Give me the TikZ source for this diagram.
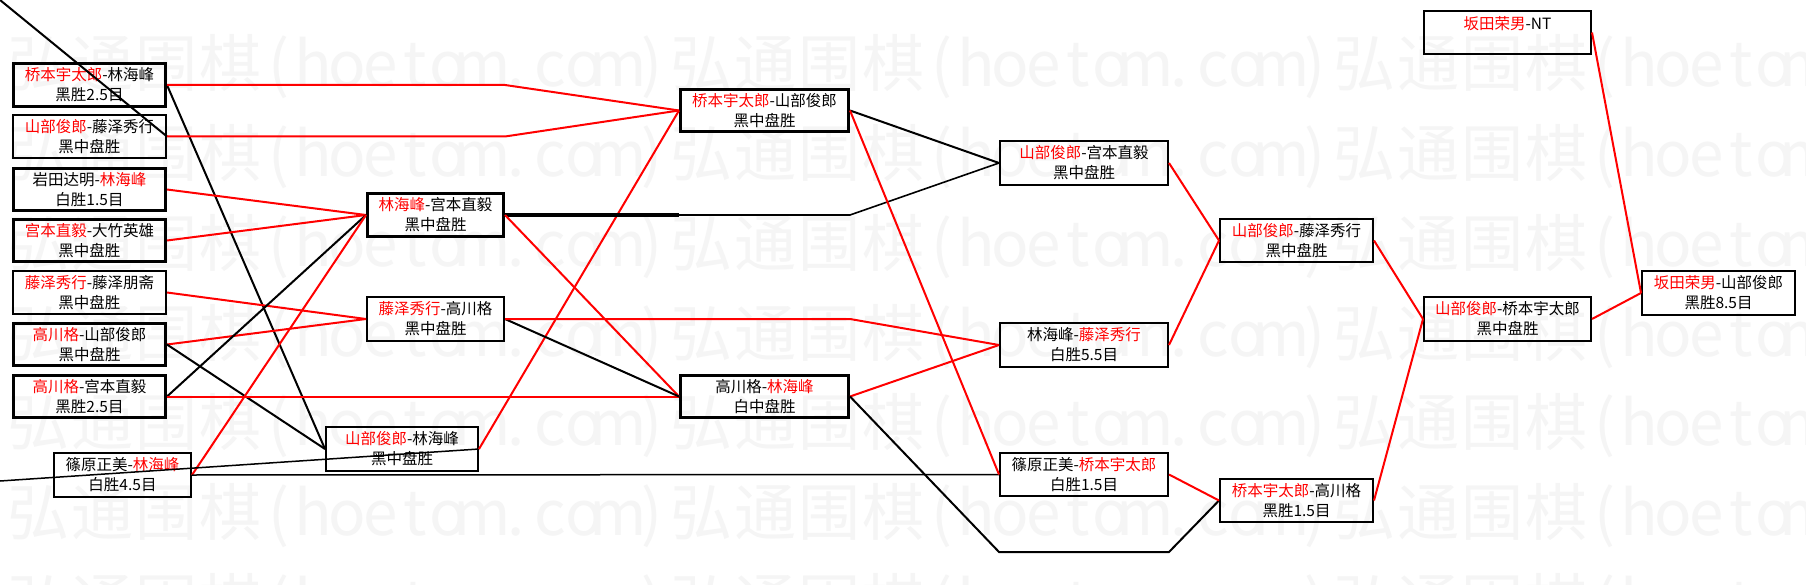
\documentclass[tikz,border=0pt]{standalone}
\usepackage{fontspec}
\setmainfont{Noto Sans CJK SC}
\newcommand{\win}[1]{\textcolor{red}{#1}}
\newcommand{\hw}[1]{\makebox[33.9pt]{#1}}
\newcommand{\fw}[1]{\makebox[64pt]{#1}}
\newcommand{\hoetom}{\fw{弘}\fw{通}\fw{围}\fw{棋}\hw{(}\hw{h}\hw{o}\hw{e}\hw{t}\hw{o}\hw{m}\hw{.}\hw{c}\hw{o}\hw{m}\hw{)}}

\begin{document}
\begin{tikzpicture}[x=1pt,y=-1pt,
  game/.style={draw,line width=2.2pt,minimum height=43.3pt,inner sep=0pt,align=center,
    font=\fontsize{15.5}{20}\selectfont},
  gamebold/.style={game,line width=3.2pt,minimum height=42.3pt},
  redline/.style={red,line width=2pt},
  blkline/.style={black,line width=2pt},
  wmark/.style={anchor=west,inner sep=0pt,text=black!4,font=\fontsize{62}{62}\selectfont}]

\useasboundingbox (0,0) rectangle (1806,585);
\fill[white] (0,0) rectangle (1806,585);
\begin{scope}
\clip (0,0) rectangle (1806,585);
\foreach \r in {0,...,6}
  \foreach \c in {0,1,2}
    \node[wmark] at (6+663*\c,67+89.7*\r) {\hoetom};
\end{scope}

% round 1
\node[gamebold,minimum width=151.8] (A1) at (89.5,85)    {\win{桥本宇太郎}-林海峰\\黑胜2.5目};
\node[game,minimum width=152.8]     (A2) at (89.5,136.5) {\win{山部俊郎}-藤泽秀行\\黑中盘胜};
\node[gamebold,minimum width=151.8] (A3) at (89.5,189.5) {岩田达明-\win{林海峰}\\白胜1.5目};
\node[gamebold,minimum width=151.8] (A4) at (89.5,240.5) {\win{宫本直毅}-大竹英雄\\黑中盘胜};
\node[game,minimum width=152.8]     (A5) at (89.5,292.5) {\win{藤泽秀行}-藤泽朋斋\\黑中盘胜};
\node[gamebold,minimum width=151.8] (A6) at (89.5,344.5) {\win{高川格}-山部俊郎\\黑中盘胜};
\node[gamebold,minimum width=151.8] (A7) at (89.5,396.5) {\win{高川格}-宫本直毅\\黑胜2.5目};
\node[game,minimum width=136.8]     (A8) at (122.5,475)  {篠原正美-\win{林海峰}\\白胜4.5目};
% round 2
\node[gamebold,minimum width=135.8] (B1) at (435.5,215) {\win{林海峰}-宫本直毅\\黑中盘胜};
\node[game,minimum width=136.8]     (B2) at (435.5,319) {\win{藤泽秀行}-高川格\\黑中盘胜};
\node[game,minimum width=151.8]     (B3) at (402,449)   {\win{山部俊郎}-林海峰\\黑中盘胜};
% round 3
\node[gamebold,minimum width=167.8] (C1) at (764.5,110.5) {\win{桥本宇太郎}-山部俊郎\\黑中盘胜};
\node[gamebold,minimum width=167.8] (C2) at (764.5,396.5) {高川格-\win{林海峰}\\白中盘胜};
% round 4
\node[game,minimum width=167.8] (D1) at (1084,163)   {\win{山部俊郎}-宫本直毅\\黑中盘胜};
\node[game,minimum width=167.8] (D2) at (1084,345)   {林海峰-\win{藤泽秀行}\\白胜5.5目};
\node[game,minimum width=167.8] (D3) at (1084,474.5) {篠原正美-\win{桥本宇太郎}\\白胜1.5目};
% semifinal and final
\node[game,minimum width=152.8] (E1) at (1296.5,240.5) {\win{山部俊郎}-藤泽秀行\\黑中盘胜};
\node[game,minimum width=152.8] (E2) at (1296.5,500.5) {\win{桥本宇太郎}-高川格\\黑胜1.5目};
\node[game,minimum width=166.8] (F1) at (1507.5,319)   {\win{山部俊郎}-桥本宇太郎\\黑中盘胜};
\node[game,minimum width=166.8] (F0) at (1507.5,32.5)  {\win{坂田荣男}-NT\\~};
\node[game,minimum width=152.8] (G)  at (1718.5,293)   {\win{坂田荣男}-山部俊郎\\黑胜8.5目};

\coordinate (O) at (0,0);
\coordinate (P) at (0,481);
\coordinate (Q) at (999,552);    % under D3
\coordinate (R) at (1169,552);

\draw[blkline] (O) -- (A2.east);
\draw[blkline] (A1.east) -- (B3.west);
\draw[redline] (A1.east) -- (B1.east |- A1.east) -- (C1.west);
\draw[redline] (A2.east) -- (B1.east |- A2.east) -- (C1.west);
\draw[redline] (A3.east) -- (B1.west);
\draw[redline] (A4.east) -- (B1.west);
\draw[redline] (A5.east) -- (B2.west);
\draw[redline] (A6.east) -- (B2.west);
\draw[blkline] (A6.east) -- (B3.west);
\draw[blkline] (A7.east) -- (B1.west);
\draw[redline] (A7.east) -- (C2.west);
\draw[redline] (A8.east) -- (B1.west);
\draw[blkline,line width=1.5pt] (P) -- (B3.east);
\draw[blkline,line width=1.5pt] (A8.east) -- (D3.west);
\draw[redline] (B3.east) -- (C1.west);
\draw[blkline,line width=3.2pt] (B1.east) -- (C1.west |- B1.east);
\draw[blkline,line width=1.6pt] (C1.west |- B1.east) -- (C1.east |- B1.east) -- (D1.west);
\draw[redline] (B1.east) -- (C2.west);
\draw[blkline] (B2.east) -- (C2.west);
\draw[redline] (B2.east) -- (C2.east |- B2.east) -- (D2.west);
\draw[blkline] (C1.east) -- (D1.west);
\draw[redline] (C1.east) -- (D3.west);
\draw[redline] (C2.east) -- (D2.west);
\draw[blkline] (C2.east) -- (Q) -- (R) -- (E2.west);
\draw[redline] (D1.east) -- (E1.west);
\draw[redline] (D2.east) -- (E1.west);
\draw[redline] (D3.east) -- (E2.west);
\draw[redline] (E1.east) -- (F1.west);
\draw[redline] (E2.east) -- (F1.west);
\draw[redline] (F1.east) -- (G.west);
\draw[redline] (F0.east) -- (G.west);
\end{tikzpicture}
\end{document}
